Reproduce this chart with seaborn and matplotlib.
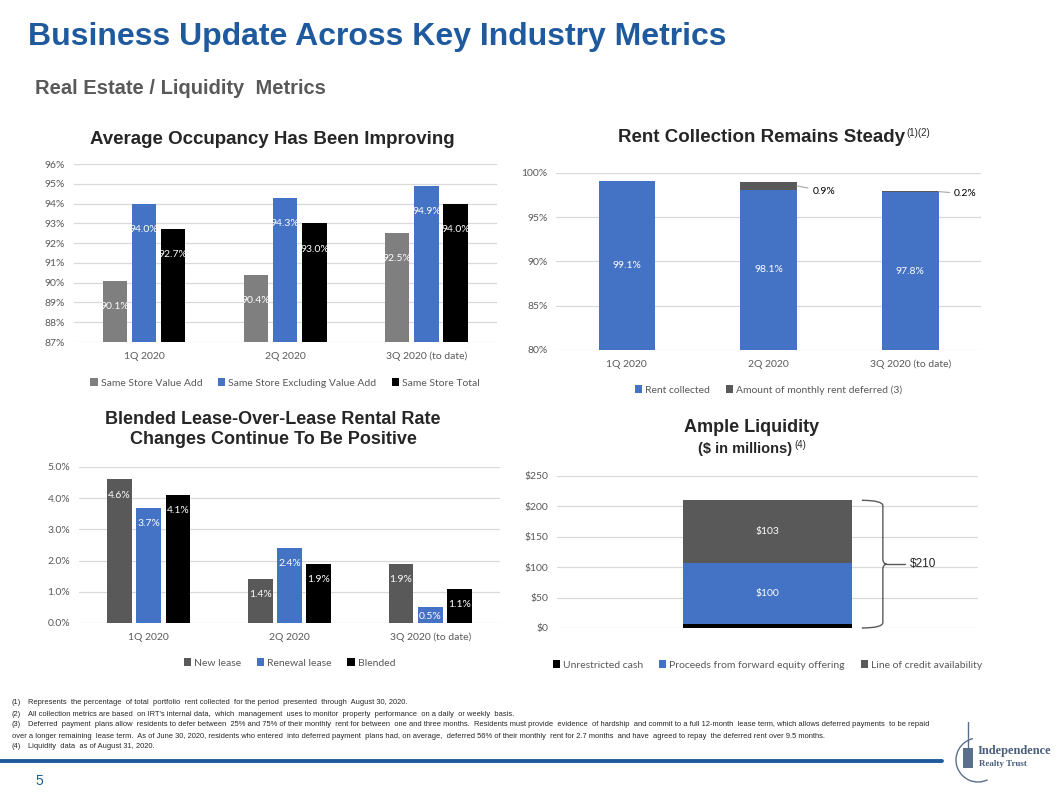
import pandas as pd
import seaborn as sns
import matplotlib.pyplot as plt
from matplotlib.ticker import FuncFormatter
from matplotlib.patches import Patch, PathPatch, Arc, Rectangle
from matplotlib.path import Path
from matplotlib.lines import Line2D

# ----------------------------
# Data
# ----------------------------
quarters = ["1Q 2020", "2Q 2020", "3Q 2020 (to date)"]

occ_series = ["Same Store Value Add", "Same Store Excluding Value Add", "Same Store Total"]
occ_value_add = [90.1, 90.4, 92.5]
occ_excl_value_add = [94.0, 94.3, 94.9]
occ_total = [92.7, 93.0, 94.0]

rent_series = ["Rent collected", "Amount of monthly rent deferred (3)"]
rent_collected = [99.1, 98.1, 97.8]
rent_deferred = [0.0, 0.9, 0.2]

lease_series = ["New lease", "Renewal lease", "Blended"]
lease_new = [4.6, 1.4, 1.9]
lease_renewal = [3.7, 2.4, 0.5]
lease_blended = [4.1, 1.9, 1.1]

liq_series = ["Unrestricted cash", "Proceeds from forward equity offering", "Line of credit availability"]
liq_values = [7, 100, 103]
liq_labels = ["", "$100", "$103"]
liq_total_label = "$210"

footnotes = [
    ("(1)", "Represents  the percentage  of total  portfolio  rent collected  for the period  presented  through  August 30, 2020."),
    ("(2)", "All collection metrics are based  on IRT's internal data,  which  management  uses to monitor  property  performance  on a daily  or weekly  basis."),
    ("(3)", "Deferred  payment  plans allow  residents to defer between  25% and 75% of their monthly  rent for between  one and three months.  Residents must provide  evidence  of hardship  and commit to a full 12-month  lease term, which allows deferred payments  to be repaid"),
    ("", "over a longer remaining  lease term.  As of June 30, 2020, residents who entered  into deferred payment  plans had, on average,  deferred 56% of their monthly  rent for 2.7 months  and have  agreed to repay  the deferred rent over 9.5 months."),
    ("(4)", "Liquidity  data  as of August 31, 2020."),
]

# ----------------------------
# Style
# ----------------------------
sns.set_style("white")
plt.rcParams["font.family"] = ["Lato", "DejaVu Sans"]

GRAY = "#7f7f7f"
DARK = "#595959"
BLUE = "#4472c4"
BLACK = "#000000"
NAVY = "#1f5a9e"
GRID = "#d9d9d9"
TXT = "#595959"
TITLE_FONT = ["Liberation Sans", "DejaVu Sans"]

W, H = 1058, 796
fig = plt.figure(figsize=(W / 100, H / 100), dpi=100)


def px_axes(x0, y0, x1, y1):
    # axes box given in slide pixels (top-left origin)
    return fig.add_axes([x0 / W, 1 - y1 / H, (x1 - x0) / W, (y1 - y0) / H])


def style_axes(ax, ticks, fmt):
    ax.set_yticks(ticks)
    ax.yaxis.set_major_formatter(FuncFormatter(fmt))
    for s in ax.spines.values():
        s.set_visible(False)
    ax.grid(axis="y", color=GRID, lw=0.9)
    ax.set_axisbelow(True)
    ax.tick_params(length=0, labelsize=7.5, labelcolor=TXT)
    ax.tick_params(axis="y", pad=6)
    ax.tick_params(axis="x", pad=7)
    ax.set_xlabel("")
    ax.set_ylabel("")


def add_legend(ax, labels, colors, y):
    handles = [Patch(facecolor=c, edgecolor="none") for c in colors]
    ax.legend(handles, labels, loc="center", bbox_to_anchor=(0.5, y), ncol=len(labels),
              frameon=False, fontsize=7.5, labelcolor=TXT, handlelength=0.7,
              handleheight=0.7, handletextpad=0.3, columnspacing=1.5)


def long_frame(series, *cols):
    rows = []
    for name, vals in zip(series, cols):
        for q, v in zip(quarters, vals):
            rows.append({"quarter": q, "series": name, "value": v})
    return pd.DataFrame(rows)


def title_with_sup(x, y, text, sup, size):
    t = fig.text(x / W, 1 - y / H, text, ha="center", va="center", fontsize=size,
                 fontweight="bold", family=TITLE_FONT)
    if sup:
        r = fig.canvas.get_renderer()
        bb = t.get_window_extent(r)
        fig.text((bb.x1 + 2) / W, (bb.y1 - 3) / H, sup, ha="left", va="center",
                 fontsize=7, family=TITLE_FONT)


# ----------------------------
# Slide heading
# ----------------------------
fig.text(28 / W, 1 - 37 / H, "Business Update Across Key Industry Metrics", ha="left", va="center",
         fontsize=23, fontweight="bold", color=NAVY, family=TITLE_FONT)
fig.text(35 / W, 1 - 88 / H, "Real Estate / Liquidity  Metrics", ha="left", va="center",
         fontsize=14.5, fontweight="bold", color=DARK, family=TITLE_FONT)

# ----------------------------
# Chart 1: Average occupancy
# ----------------------------
ax1 = px_axes(73.5, 164, 497, 342)
occ = long_frame(occ_series, occ_value_add, occ_excl_value_add, occ_total)
sns.barplot(data=occ, x="quarter", y="value", hue="series", palette=[GRAY, BLUE, BLACK],
            width=0.62, gap=0.17, legend=False, saturation=1, linewidth=0, ax=ax1)
ax1.set_ylim(87, 96)
style_axes(ax1, range(87, 97), lambda v, p: f"{v:.0f}%")
for cont in ax1.containers:
    for bar in cont:
        v = bar.get_height()
        ax1.text(bar.get_x() + bar.get_width() / 2, v - 1.3, f"{v:.1f}%", ha="center",
                 va="center", color="white", fontsize=7.5)
add_legend(ax1, occ_series, [GRAY, BLUE, BLACK], -0.23)
title_with_sup(272, 139, "Average Occupancy Has Been Improving", "", 13.5)

# ----------------------------
# Chart 2: Rent collection (stacked)
# ----------------------------
ax2 = px_axes(556, 173, 981, 350)
rent_top = [c + d for c, d in zip(rent_collected, rent_deferred)]
sns.barplot(x=quarters, y=rent_top, color=DARK, width=0.4, saturation=1, linewidth=0, ax=ax2)
sns.barplot(x=quarters, y=rent_collected, color=BLUE, width=0.4, saturation=1, linewidth=0, ax=ax2)
ax2.set_ylim(80, 100)
style_axes(ax2, range(80, 101, 5), lambda v, p: f"{v:.0f}%")
blue_bars = ax2.containers[1]
for bar, c, d in zip(blue_bars, rent_collected, rent_deferred):
    xc = bar.get_x() + bar.get_width() / 2
    ax2.text(xc, (80 + c) / 2, f"{c:.1f}%", ha="center", va="center", color="white", fontsize=7.5)
    if d > 0:
        xr = bar.get_x() + bar.get_width()
        ax2.annotate(f"{d:.1f}%", xy=(xr, c + d / 2), xytext=(xr + 0.11, c - 0.15),
                     ha="left", va="center", fontsize=7.5, color=BLACK,
                     arrowprops=dict(arrowstyle="-", color="#a6a6a6", lw=0.8,
                                     shrinkA=1, shrinkB=0))
add_legend(ax2, rent_series, [BLUE, DARK], -0.226)
title_with_sup(761, 138, "Rent Collection Remains Steady", "(1)(2)", 13.5)

# ----------------------------
# Chart 3: Lease-over-lease
# ----------------------------
ax3 = px_axes(78.5, 467, 500.5, 623)
lease = long_frame(lease_series, lease_new, lease_renewal, lease_blended)
sns.barplot(data=lease, x="quarter", y="value", hue="series", palette=[DARK, BLUE, BLACK],
            width=0.62, gap=0.15, legend=False, saturation=1, linewidth=0, ax=ax3)
ax3.set_ylim(0, 5)
style_axes(ax3, range(0, 6), lambda v, p: f"{v:.1f}%")
for cont in ax3.containers:
    for bar in cont:
        v = bar.get_height()
        ax3.text(bar.get_x() + bar.get_width() / 2, max(v - 0.5, v * 0.4), f"{v:.1f}%",
                 ha="center", va="center", color="white", fontsize=7.5)
add_legend(ax3, lease_series, [DARK, BLUE, BLACK], -0.256)
fig.text(273 / W, 1 - 419 / H, "Blended Lease-Over-Lease Rental Rate", ha="center", va="center",
         fontsize=13, fontweight="bold", family=TITLE_FONT)
fig.text(273 / W, 1 - 439 / H, "Changes Continue To Be Positive", ha="center", va="center",
         fontsize=13, fontweight="bold", family=TITLE_FONT)

# ----------------------------
# Chart 4: Liquidity (stacked)
# ----------------------------
ax4 = px_axes(557, 476, 978, 628)
liq_cum = pd.Series(liq_values).cumsum().tolist()
liq_colors = [BLACK, BLUE, DARK]
for top, col in zip(liq_cum[::-1], liq_colors[::-1]):
    sns.barplot(x=["Liquidity"], y=[top], color=col, width=0.4, saturation=1, linewidth=0, ax=ax4)
ax4.set_xlim(-0.5, 0.5)
ax4.set_ylim(0, 250)
style_axes(ax4, range(0, 251, 50), lambda v, p: f"${v:.0f}")
ax4.set_xticks([])
bottoms = [0] + liq_cum[:-1]
for b, v, lab in zip(bottoms, liq_values, liq_labels):
    if lab:
        ax4.text(0, b + v / 2, lab, ha="center", va="center", color="white", fontsize=7.5)

# curly brace around the total
bar = ax4.containers[0][0]
x0 = bar.get_x() + bar.get_width() + 0.024
x1, x2 = x0 + 0.05, x0 + 0.06
top, bot = liq_cum[-1], 0
mid = (top + bot) / 2
d = 9
verts = [(x0, top), (x1, top), (x1, top - d), (x1, mid + d), (x1, mid), (x2, mid),
         (x1, mid), (x1, mid - d), (x1, bot + d), (x1, bot), (x0, bot)]
codes = [Path.MOVETO, Path.CURVE3, Path.CURVE3, Path.LINETO, Path.CURVE3, Path.CURVE3,
         Path.CURVE3, Path.CURVE3, Path.LINETO, Path.CURVE3, Path.CURVE3]
ax4.add_patch(PathPatch(Path(verts, codes), fill=False, edgecolor="#595959", lw=1, clip_on=False))
ax4.plot([x2, x2 + 0.043], [mid, mid], color="#595959", lw=1, clip_on=False)
ax4.text(x2 + 0.055, mid, liq_total_label, ha="left", va="center", fontsize=8.5,
         family=TITLE_FONT, clip_on=False)
add_legend(ax4, liq_series, liq_colors, -0.243)
fig.text(752 / W, 1 - 428 / H, "Ample Liquidity", ha="center", va="center", fontsize=13,
         fontweight="bold", family=TITLE_FONT)
title_with_sup(745, 449, "($ in millions)", "(4)", 10.5)

# ----------------------------
# Footnotes, rule line, page number, logo
# ----------------------------
for i, (num, txt) in enumerate(footnotes):
    y = 1 - (703 + i * 11) / H
    if num:
        fig.text(12 / W, y, num, ha="left", va="center", fontsize=5.45, family=TITLE_FONT)
        fig.text(28 / W, y, txt, ha="left", va="center", fontsize=5.45, family=TITLE_FONT)
    else:
        fig.text(12 / W, y, txt, ha="left", va="center", fontsize=5.45, family=TITLE_FONT)

fig.add_artist(Line2D([0, 942 / W], [1 - 761 / H] * 2, color=NAVY, lw=2.8))
fig.text(35 / W, 1 - 781 / H, "5", ha="left", va="center", fontsize=10, color=NAVY,
         family=TITLE_FONT)

fig.add_artist(Arc((978 / W, 1 - 760 / H), 44 / W, 44 / H, theta1=100, theta2=290,
                   transform=fig.transFigure, color="#5a6f8c", lw=1))
fig.add_artist(Rectangle((963 / W, 1 - 768 / H), 10 / W, 20 / H, transform=fig.transFigure,
                         color="#5a6f8c", lw=0))
fig.add_artist(Line2D([968 / W, 968 / W], [1 - 748 / H, 1 - 722 / H], color="#5a6f8c", lw=1))
fig.text(978 / W, 1 - 751 / H, "Independence", ha="left", va="center", fontsize=9,
         fontweight="bold", color="#4a5f7e", family=["Liberation Serif", "DejaVu Serif"])
fig.text(979 / W, 1 - 764 / H, "Realty Trust", ha="left", va="center", fontsize=6.5,
         fontweight="bold", color="#4a5f7e", family=["Liberation Serif", "DejaVu Serif"])

fig.savefig("out.png", dpi=100)
